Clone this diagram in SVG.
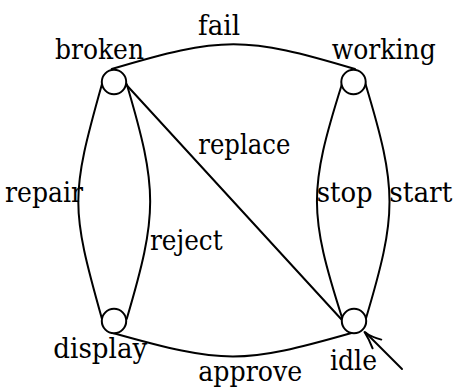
<svg xmlns="http://www.w3.org/2000/svg" width="456" height="387" viewBox="0 0 456 387">
<style>
.st{fill:#fff;stroke:#000;stroke-width:2}
.e{fill:none;stroke:#000;stroke-width:2;stroke-linecap:round;stroke-linejoin:round}
.t{font-family:'DejaVu Serif',serif;font-size:28px;fill:#000}
</style>
<rect width="456" height="387" fill="#fff"/>
<g id="connectors">
<path class="e" d="M111.7,69 C222,36 245,36 355,69"/>
<path class="e" d="M102,84 C70.4,196 70.4,207 102,319"/>
<path class="e" d="M126.7,84 C158,190 158,213 126.7,319"/>
<path class="e" d="M126.5,85 L342,320"/>
<path class="e" d="M342,84 C308.5,190 308.5,213 342.5,319"/>
<path class="e" d="M365.5,84 C397.5,190 397.5,213 365.5,320"/>
<path class="e" d="M112,332.7 C225,364.5 241,364.5 353.3,332.5"/>
<path class="e" d="M402,369 L365.5,332.5"/>
<path class="e" d="M381.3,339.6 Q371,337 364.5,332 Q369,339 372.6,348.3"/>
</g>
<g id="broken"><circle class="st" cx="114" cy="82" r="12.2"/><text class="t" x="55" y="59.3" textLength="89" lengthAdjust="spacingAndGlyphs">broken</text></g>
<g id="working"><circle class="st" cx="353.5" cy="82" r="12.2"/><text class="t" x="331.7" y="58.5" textLength="104" lengthAdjust="spacingAndGlyphs">working</text></g>
<g id="display"><circle class="st" cx="114" cy="321" r="12.2"/><text class="t" x="53.3" y="358.3" textLength="94" lengthAdjust="spacingAndGlyphs">display</text></g>
<g id="idle"><circle class="st" cx="354" cy="321" r="12.2"/><text class="t" x="330" y="370" textLength="47" lengthAdjust="spacingAndGlyphs">idle</text></g>
<g id="labels">
<text class="t" x="198" y="35" textLength="42" lengthAdjust="spacingAndGlyphs">fail</text>
<text class="t" x="198.3" y="154.3" textLength="92" lengthAdjust="spacingAndGlyphs">replace</text>
<text class="t" x="5" y="201.5" textLength="78" lengthAdjust="spacingAndGlyphs">repair</text>
<text class="t" x="150" y="250" textLength="72.6" lengthAdjust="spacingAndGlyphs">reject</text>
<text class="t" x="316.7" y="201.5" textLength="56" lengthAdjust="spacingAndGlyphs">stop</text>
<text class="t" x="389.3" y="201.5" textLength="63" lengthAdjust="spacingAndGlyphs">start</text>
<text class="t" x="198.3" y="380.5" textLength="104" lengthAdjust="spacingAndGlyphs">approve</text>
</g>
</svg>
